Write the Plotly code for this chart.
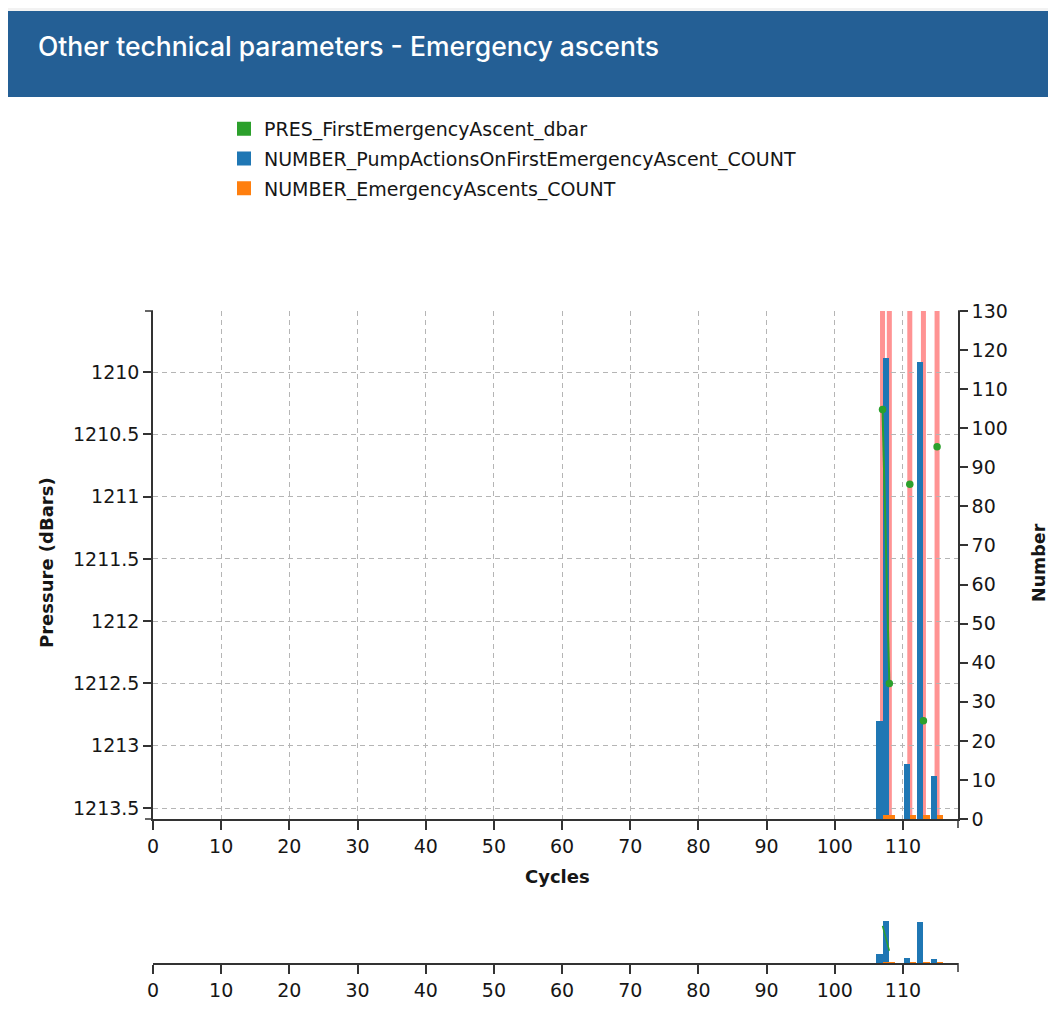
import plotly.graph_objects as go

# ---------------- data ----------------
cycles = [107, 108, 111, 113, 115]
pump_actions = [25, 118, 14, 117, 11]
emergency_count = [1, 1, 1, 1, 1]
pres_cycles = [107, 108, 109, 110, 111, 112, 113, 114, 115]
pres_first = [1210.30, 1212.50, None, None, 1210.90, None, 1212.80, None, 1210.60]
x_ticks = [0, 10, 20, 30, 40, 50, 60, 70, 80, 90, 100, 110]
pres_ticks = [1210, 1210.5, 1211, 1211.5, 1212, 1212.5, 1213, 1213.5]
num_ticks = [0, 10, 20, 30, 40, 50, 60, 70, 80, 90, 100, 110, 120, 130]
series_names = ["PRES_FirstEmergencyAscent_dbar",
                "NUMBER_PumpActionsOnFirstEmergencyAscent_COUNT",
                "NUMBER_EmergencyAscents_COUNT"]

# the page body has an 8px margin: figure pixel = page pixel - 8
OFF = 8
W, H = 1048, 1003
fx = lambda p: (p - OFF) / W
fy = lambda p: 1 - (p - OFF) / H

GREEN, BLUE, ORANGE = "#2ca02c", "#1f77b4", "#ff7f0e"
FONT = "DejaVu Sans"
TXT = "#161616"
AX = "#333333"
GRID = "#b5b5b5"

fig = go.Figure()

# legend entries (square swatches)
for nm, col, grp in zip(series_names, [GREEN, BLUE, ORANGE], ["a", "b", "c"]):
    fig.add_trace(go.Bar(x=[None], y=[None], name=nm, marker=dict(color=col, line=dict(color=col, width=2)),
                         legendgroup=grp, xaxis="x", yaxis="y"))

# main chart bars (number axis = y, right)
fig.add_trace(go.Bar(x=cycles, y=pump_actions, name=series_names[1], showlegend=False,
                     marker_color=BLUE, marker_line_width=0, width=0.9, offset=-0.9,
                     xaxis="x", yaxis="y"))
fig.add_trace(go.Bar(x=cycles, y=emergency_count, name=series_names[2], showlegend=False,
                     marker_color=ORANGE, marker_line_width=0, width=0.9, offset=0.0,
                     xaxis="x", yaxis="y"))
# pressure line (overlay axis y2, left, reversed)
fig.add_trace(go.Scatter(x=pres_cycles, y=pres_first, mode="lines+markers", name=series_names[0],
                         line=dict(color=GREEN, width=2), marker=dict(color=GREEN, size=7.5),
                         connectgaps=False, showlegend=False, xaxis="x", yaxis="y2"))

# mini (navigator) chart
fig.add_trace(go.Bar(x=cycles, y=pump_actions, marker_color=BLUE, marker_line_width=0,
                     width=0.9, offset=-0.9, showlegend=False, xaxis="x2", yaxis="y3"))
fig.add_trace(go.Bar(x=cycles, y=emergency_count, marker_color=ORANGE, marker_line_width=0,
                     width=0.9, offset=0.0, showlegend=False, xaxis="x2", yaxis="y3"))
fig.add_trace(go.Scatter(x=pres_cycles, y=pres_first, mode="lines",
                         line=dict(color=GREEN, width=1.5), connectgaps=False,
                         showlegend=False, xaxis="x2", yaxis="y4"))

shapes = []
# card / header
shapes.append(dict(type="rect", xref="paper", yref="paper", x0=0, x1=1, y0=0, y1=fy(97),
                   fillcolor="white", line_width=0, layer="below"))
shapes.append(dict(type="rect", xref="paper", yref="paper", x0=0, x1=1, y0=fy(97), y1=fy(11),
                   fillcolor="#245f95", line_width=0, layer="below"))
# emergency ascent markers (vertical red bands)
for c in cycles:
    shapes.append(dict(type="line", xref="x", yref="y domain", x0=c, x1=c, y0=0, y1=1,
                       line=dict(color="rgba(255,40,40,0.5)", width=5), layer="below"))
# d3-style outer ticks at the axis ends
def seg(x0, y0, x1, y1):
    shapes.append(dict(type="line", xref="paper", yref="paper", x0=fx(x0), x1=fx(x1),
                       y0=fy(y0), y1=fy(y1), line=dict(color=AX, width=1.5), layer="above"))
seg(145, 311, 153, 311)
seg(145, 819, 153, 819)
seg(958, 311, 966, 311)
seg(958, 819, 966, 819)
seg(958, 819, 958, 828)
seg(958, 963, 958, 972)

annotations = [
    dict(text="Other technical parameters - Emergency ascents", xref="paper", yref="paper",
         x=fx(36), y=fy(46), xanchor="left", yanchor="middle", showarrow=False,
         font=dict(family="Inter", size=26.5, color="white", weight=500)),
    dict(text="Cycles", xref="paper", yref="paper", x=fx(557), y=fy(876), xanchor="center",
         yanchor="middle", showarrow=False, font=dict(family=FONT, size=18, color=TXT, weight="bold")),
    dict(text="Pressure (dBars)", xref="paper", yref="paper", x=fx(46), y=fy(563), xanchor="center",
         yanchor="middle", textangle=-90, showarrow=False,
         font=dict(family=FONT, size=18, color=TXT, weight="bold")),
    dict(text="Number", xref="paper", yref="paper", x=fx(1039), y=fy(563), xanchor="center",
         yanchor="middle", textangle=-90, showarrow=False,
         font=dict(family=FONT, size=17.5, color=TXT, weight="bold")),
]

tickfont = dict(family=FONT, size=19, color=TXT)
common_x = dict(range=[0, 118.07], tickvals=x_ticks, ticktext=[str(v) for v in x_ticks],
                ticks="outside", ticklen=9, tickwidth=1.5,
                tickcolor=AX, showline=True, linecolor=AX, linewidth=1.5, tickfont=tickfont,
                zeroline=False, fixedrange=True, automargin=False)

fig.update_layout(
    width=W, height=H, margin=dict(l=0, r=0, t=0, b=0, pad=0, autoexpand=False),
    paper_bgcolor="#f2f2f2", plot_bgcolor="rgba(0,0,0,0)",
    barmode="overlay", bargap=0,
    font=dict(family=FONT, color=TXT),
    showlegend=True,
    legend=dict(x=fx(224), y=fy(110), xanchor="left", yanchor="top", orientation="v",
                traceorder="grouped", tracegroupgap=2, bgcolor="rgba(0,0,0,0)",
                font=dict(family=FONT, size=19, color=TXT)),
    xaxis=dict(domain=[fx(153), fx(958)], anchor="y", showgrid=True, gridcolor=GRID,
               griddash="5px,4px", gridwidth=1, **common_x),
    yaxis=dict(domain=[fy(819), fy(311)], anchor="x", side="right", range=[0, 130],
               tickvals=num_ticks, ticktext=[str(v) for v in num_ticks],
               ticks="outside", ticklen=8, tickwidth=1.5, tickcolor=AX,
               showline=True, linecolor=AX, linewidth=1.5, showgrid=False, zeroline=False,
               tickfont=tickfont, fixedrange=True, automargin=False),
    yaxis2=dict(overlaying="y", anchor="x", side="left", range=[1213.588, 1209.51],
                tickvals=pres_ticks, ticktext=[f"{v:g}" for v in pres_ticks],
                ticks="outside", ticklen=8, tickwidth=1.5, tickcolor=AX,
                showline=True, linecolor=AX, linewidth=1.5, showgrid=True, gridcolor=GRID,
                griddash="5px,4px", gridwidth=1, zeroline=False, tickfont=tickfont,
                fixedrange=True, automargin=False),
    xaxis2=dict(domain=[fx(153), fx(958)], anchor="y3", showgrid=False, **common_x),
    yaxis3=dict(domain=[fy(963), fy(917)], anchor="x2", range=[0, 130], visible=False,
                fixedrange=True),
    yaxis4=dict(overlaying="y3", anchor="x2", range=[1213.588, 1209.51], visible=False,
                fixedrange=True),
    shapes=shapes, annotations=annotations,
)

fig.write_html("out.html")
